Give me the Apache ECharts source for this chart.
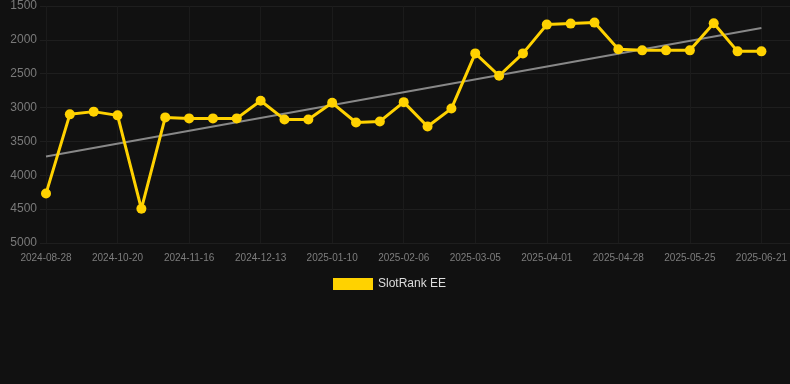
<!DOCTYPE html>
<html>
<head>
<meta charset="utf-8">
<script src="https://cdn.jsdelivr.net/npm/echarts@6/dist/echarts.min.js"></script>
<style>
html,body{margin:0;padding:0;background:#111111;}
#chart{width:790px;height:384px;}
</style>
</head>
<body>
<div id="chart"></div>
<script>
const categories = [
  '2024-08-28','2024-10-02','2024-10-11','2024-10-20','2024-10-29','2024-11-07',
  '2024-11-16','2024-11-25','2024-12-04','2024-12-13','2024-12-22','2025-01-01',
  '2025-01-10','2025-01-19','2025-01-28','2025-02-06','2025-02-15','2025-02-24',
  '2025-03-05','2025-03-14','2025-03-23','2025-04-01','2025-04-10','2025-04-19',
  '2025-04-28','2025-05-07','2025-05-16','2025-05-25','2025-06-03','2025-06-12',
  '2025-06-21'
];
const slotRank = [
  4270, 3100, 3060, 3115, 4495, 3145, 3160, 3160, 3160, 2900,
  3175, 3175, 2930, 3220, 3205, 2920, 3280, 3015, 2200, 2530,
  2200, 1775, 1760, 1745, 2140, 2155, 2155, 2155, 1755, 2170,
  2170
];
const trendStart = 3723;
const trendEnd = 1825;
const yTicks = { min: 1500, max: 5000, interval: 500 };

const trend = categories.map((c, i) => i === 0 ? trendStart : (i === categories.length - 1 ? trendEnd : null));
const font = 'Arial, "Liberation Sans", sans-serif';

const chart = echarts.init(document.getElementById('chart'), null, {renderer: 'canvas'});
chart.setOption({
  backgroundColor: '#111111',
  animation: false,
  grid: [
    { left: 46, right: 28, top: 6, bottom: 141 },
    { left: 40, right: 0, top: 6, bottom: 141 }
  ],
  legend: {
    data: ['SlotRank EE'],
    top: 273,
    left: 328,
    itemWidth: 40,
    itemHeight: 12,
    itemGap: 10,
    icon: 'rect',
    textStyle: { color: '#dddddd', fontSize: 12, fontFamily: font }
  },
  xAxis: [
    {
      type: 'category',
      gridIndex: 0,
      data: categories,
      boundaryGap: false,
      axisLine: { show: false },
      axisTick: { show: false },
      axisLabel: { interval: 2, color: '#7e7e7e', fontSize: 10, margin: 10, fontFamily: font },
      splitLine: { show: true, interval: 2, lineStyle: { color: '#1b1b1b', width: 1 } }
    },
    {
      type: 'value',
      gridIndex: 1,
      min: 0, max: 1,
      show: false
    }
  ],
  yAxis: [
    {
      type: 'value',
      gridIndex: 0,
      inverse: true,
      min: yTicks.min,
      max: yTicks.max,
      interval: yTicks.interval,
      axisLine: { show: false },
      axisTick: { show: false },
      axisLabel: { color: '#7a7a7a', fontSize: 12, margin: 9, fontFamily: font, formatter: v => String(v) },
      splitLine: { show: false }
    },
    {
      type: 'value',
      gridIndex: 1,
      inverse: true,
      min: yTicks.min,
      max: yTicks.max,
      interval: yTicks.interval,
      axisLine: { show: false },
      axisTick: { show: false },
      axisLabel: { show: false },
      splitLine: { show: true, lineStyle: { color: '#1e1e1e', width: 1 } }
    }
  ],
  series: [
    {
      name: 'Trend',
      type: 'line',
      data: trend,
      connectNulls: true,
      showSymbol: false,
      symbol: 'none',
      silent: true,
      lineStyle: { color: '#888888', width: 2 },
      z: 3
    },
    {
      name: 'SlotRank EE',
      type: 'line',
      data: slotRank,
      symbol: 'circle',
      symbolSize: 10,
      itemStyle: { color: '#FFD200' },
      lineStyle: { color: '#FFD200', width: 3 },
      z: 4
    }
  ]
});
</script>
</body>
</html>
